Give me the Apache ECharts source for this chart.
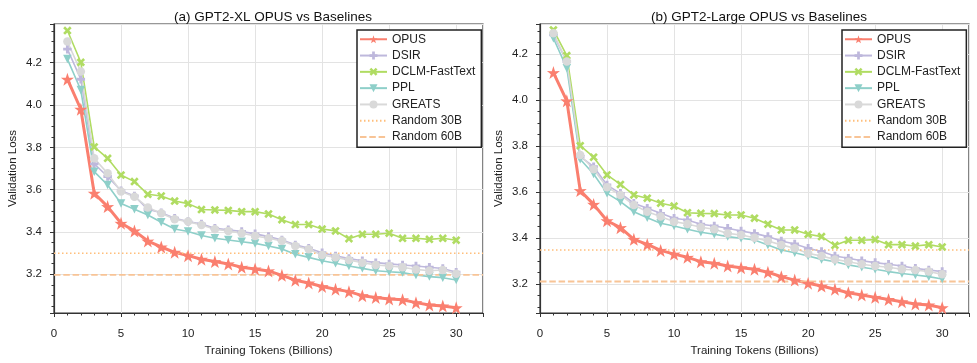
<!DOCTYPE html>
<html>
<head>
<meta charset="utf-8">
<script src="https://cdn.jsdelivr.net/npm/echarts@6/dist/echarts.min.js"></script>
<style>
  html, body { margin: 0; padding: 0; background: #fff; }
  #chart { width: 977px; height: 363px; }
</style>
</head>
<body>
<div id="chart"></div>
<script>
// training tokens (billions)
var tokens = [1,2,3,4,5,6,7,8,9,10,11,12,13,14,15,16,17,18,19,20,21,22,23,24,25,26,27,28,29,30];
var methods = ['OPUS', 'DSIR', 'DCLM-FastText', 'PPL', 'GREATS'];

// (a) GPT2-XL
var xlOpus   = [4.122,3.980,3.583,3.520,3.441,3.405,3.357,3.329,3.304,3.288,3.271,3.260,3.249,3.233,3.225,3.216,3.195,3.172,3.159,3.142,3.129,3.118,3.099,3.090,3.083,3.080,3.066,3.055,3.050,3.042];
var xlDsir   = [4.264,4.122,3.722,3.662,3.595,3.570,3.507,3.491,3.465,3.449,3.438,3.417,3.410,3.402,3.391,3.378,3.362,3.339,3.323,3.302,3.287,3.275,3.264,3.255,3.249,3.244,3.239,3.233,3.227,3.210];
var xlDclm   = [4.352,4.202,3.802,3.748,3.669,3.638,3.578,3.570,3.546,3.534,3.506,3.504,3.502,3.496,3.496,3.485,3.458,3.435,3.435,3.414,3.405,3.368,3.389,3.389,3.394,3.370,3.370,3.365,3.370,3.361];
var xlPpl    = [4.217,4.071,3.685,3.622,3.535,3.507,3.480,3.446,3.414,3.402,3.383,3.370,3.362,3.354,3.346,3.334,3.320,3.295,3.280,3.264,3.252,3.239,3.228,3.217,3.212,3.208,3.197,3.189,3.184,3.173];
var xlGreats = [4.300,4.158,3.748,3.677,3.591,3.567,3.516,3.488,3.460,3.449,3.433,3.413,3.405,3.394,3.381,3.370,3.358,3.334,3.318,3.291,3.280,3.268,3.255,3.244,3.239,3.233,3.223,3.217,3.220,3.203];
var xlRandom30 = 3.300;
var xlRandom60 = 3.197;

// (b) GPT2-Large
var lgOpus   = [4.119,3.996,3.606,3.546,3.475,3.445,3.394,3.372,3.346,3.330,3.316,3.297,3.290,3.278,3.271,3.264,3.251,3.232,3.217,3.203,3.191,3.177,3.162,3.152,3.142,3.133,3.123,3.113,3.109,3.097];
var lgDsir   = [4.283,4.167,3.754,3.710,3.630,3.594,3.551,3.529,3.507,3.486,3.478,3.460,3.452,3.442,3.430,3.420,3.406,3.387,3.374,3.355,3.341,3.322,3.312,3.301,3.293,3.286,3.278,3.268,3.261,3.254];
var lgDclm   = [4.304,4.193,3.801,3.751,3.674,3.633,3.587,3.573,3.551,3.539,3.510,3.507,3.506,3.500,3.500,3.486,3.460,3.435,3.435,3.416,3.406,3.368,3.390,3.390,3.393,3.371,3.371,3.365,3.371,3.361];
var lgPpl    = [4.268,4.138,3.742,3.678,3.594,3.558,3.514,3.488,3.464,3.452,3.438,3.425,3.416,3.406,3.399,3.391,3.370,3.348,3.336,3.322,3.307,3.297,3.283,3.273,3.264,3.254,3.246,3.239,3.232,3.222];
var lgGreats = [4.290,4.167,3.761,3.699,3.620,3.587,3.543,3.514,3.493,3.471,3.461,3.447,3.438,3.420,3.413,3.401,3.387,3.370,3.355,3.333,3.322,3.307,3.297,3.286,3.278,3.273,3.264,3.261,3.254,3.242];
var lgRandom30 = 3.348;
var lgRandom60 = 3.211;

var xMin = 0, xMax = 32;
var font = 'Liberation Sans, Arial, Helvetica, sans-serif';

var colors = {
  'OPUS': '#FA7F6F',
  'DSIR': '#BEB8DC',
  'DCLM-FastText': '#B0DC62',
  'PPL': '#8ECFC9',
  'GREATS': '#D9D9D9',
  'Random 30B': '#FFBE7A',
  'Random 60B': '#F8C496'
};
var symbols = {
  'OPUS': 'path://M50,0 L61.8,35.4 L97.6,34.5 L69,56.3 L79.4,90.5 L50,70 L20.6,90.5 L31,56.3 L2.4,34.5 L38.2,35.4 Z',
  'DSIR': 'path://M33,0 H67 V33 H100 V67 H67 V100 H33 V67 H0 V33 H33 Z',
  'DCLM-FastText': 'path://M22,0 L50,28 L78,0 L100,22 L72,50 L100,78 L78,100 L50,72 L22,100 L0,78 L28,50 L0,22 Z',
  'PPL': 'path://M0,0 L100,0 L50,88 Z',
  'GREATS': 'circle'
};

function pairs(vals) {
  return tokens.map(function (t, i) { return [t, vals[i]]; });
}

function curve(name, vals, idx) {
  var isOpus = name === 'OPUS';
  return {
    name: name, type: 'line', xAxisIndex: idx, yAxisIndex: idx,
    data: pairs(vals),
    symbol: symbols[name],
    symbolSize: isOpus ? 13 : 8.5,
    lineStyle: { color: colors[name], width: isOpus ? 3 : 1.6 },
    itemStyle: { color: colors[name] },
    animation: false
  };
}

function hline(name, v, idx, dash, w) {
  return {
    name: name, type: 'line', xAxisIndex: idx, yAxisIndex: idx,
    data: [[xMin, v], [xMax, v]],
    symbol: 'none',
    lineStyle: { color: colors[name], width: w, type: dash },
    itemStyle: { color: colors[name] },
    animation: false
  };
}

function xAxisCfg(idx) {
  return {
    type: 'value', gridIndex: idx, min: xMin, max: xMax, interval: 5,
    name: 'Training Tokens (Billions)', nameLocation: 'middle', nameGap: 31,
    nameTextStyle: { fontFamily: font, fontSize: 11.5, color: '#222' },
    axisLine: { show: true, lineStyle: { color: '#333', width: 1.2 } },
    axisTick: { show: true, length: 4, lineStyle: { color: '#333' } },
    minorTick: { show: true, splitNumber: 5, length: 2.5, lineStyle: { color: '#333' } },
    axisLabel: { fontFamily: font, fontSize: 11.5, color: '#222', margin: 15, showMaxLabel: false },
    splitLine: { show: true, lineStyle: { color: '#e3e3e3', width: 1 } }
  };
}

function yAxisCfg(idx, lo, hi) {
  return {
    type: 'value', gridIndex: idx, min: lo, max: hi, splitNumber: 7,
    name: 'Validation Loss', nameLocation: 'middle', nameGap: 35,
    nameTextStyle: { fontFamily: font, fontSize: 11.5, color: '#222' },
    axisLine: { show: true, lineStyle: { color: '#333', width: 1.2 } },
    axisTick: { show: true, length: 4, lineStyle: { color: '#333' } },
    minorTick: { show: true, splitNumber: 4, length: 2.5, lineStyle: { color: '#333' } },
    axisLabel: {
      fontFamily: font, fontSize: 11.5, color: '#222', margin: 12,
      showMinLabel: false, showMaxLabel: false,
      formatter: function (v) { return v.toFixed(1); }
    },
    splitLine: { show: true, lineStyle: { color: '#e3e3e3', width: 1 } }
  };
}

function legendCfg(left) {
  var items = methods.map(function (m) { return { name: m }; });
  items.push({ name: 'Random 30B', itemStyle: { opacity: 0 } });
  items.push({ name: 'Random 60B', itemStyle: { opacity: 0 } });
  return {
    orient: 'vertical', left: left, top: 30,
    data: items,
    itemWidth: 27, itemHeight: 10, itemGap: 1.8,
    padding: [2, 6, 3, 2],
    borderColor: '#222', borderWidth: 1.5,
    backgroundColor: '#fff',
    textStyle: { fontFamily: font, fontSize: 12, lineHeight: 14.5, color: '#222' }
  };
}

var series = [];
[[xlOpus, xlDsir, xlDclm, xlPpl, xlGreats, xlRandom30, xlRandom60],
 [lgOpus, lgDsir, lgDclm, lgPpl, lgGreats, lgRandom30, lgRandom60]].forEach(function (set, idx) {
  methods.forEach(function (m, i) { series.push(curve(m, set[i], idx)); });
  series.push(hline('Random 30B', set[5], idx, [1.5, 2.5], 1.5));
  series.push(hline('Random 60B', set[6], idx, [6.5, 2.8], 1.8));
});

var chart = echarts.init(document.getElementById('chart'), null, { renderer: 'canvas' });
chart.setOption({
  backgroundColor: '#fff',
  animation: false,
  title: [
    { text: '(a) GPT2-XL OPUS vs Baselines', left: 268, top: 5, textAlign: 'center',
      textStyle: { fontFamily: font, fontSize: 13.5, fontWeight: 'normal', color: '#111' } },
    { text: '(b) GPT2-Large OPUS vs Baselines', left: 754, top: 5, textAlign: 'center',
      textStyle: { fontFamily: font, fontSize: 13.5, fontWeight: 'normal', color: '#111' } }
  ],
  grid: [
    { left: 54, right: 494, top: 24, bottom: 50, show: true, borderColor: '#333', borderWidth: 1.2, backgroundColor: 'transparent' },
    { left: 540, right: 8, top: 24, bottom: 50, show: true, borderColor: '#333', borderWidth: 1.2, backgroundColor: 'transparent' }
  ],
  legend: [legendCfg(357), legendCfg(842)],
  xAxis: [xAxisCfg(0), xAxisCfg(1)],
  yAxis: [yAxisCfg(0, 3.017, 4.383), yAxisCfg(1, 3.074, 4.330)],
  series: series
});
</script>
</body>
</html>
